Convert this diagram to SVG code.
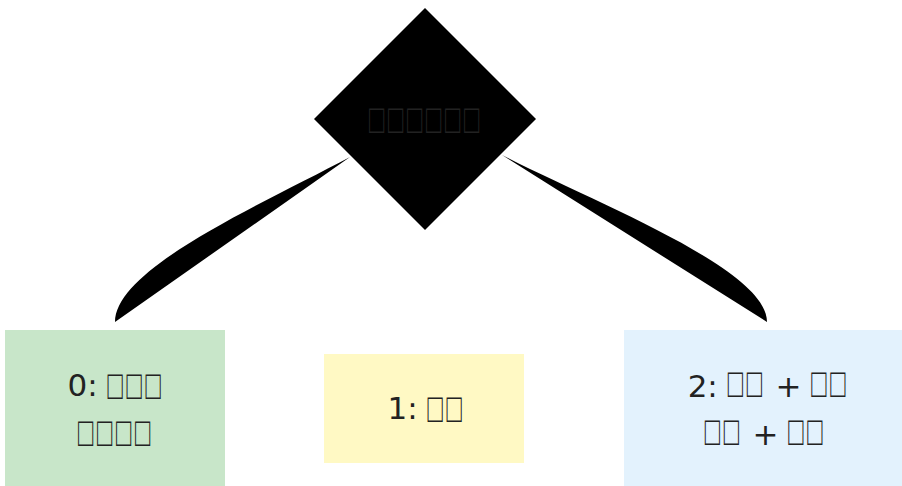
<svg xmlns="http://www.w3.org/2000/svg" width="902" height="486" viewBox="0 0 902 486">
<style>
.t{font-family:"DejaVu Sans","Liberation Sans",sans-serif;font-size:31px;fill:#222;text-anchor:middle}
.b{font-family:"Liberation Sans","DejaVu Sans",sans-serif;font-size:41px;letter-spacing:6px}
.link{fill:#000;stroke:none}
</style>
<rect width="902" height="486" fill="#fff"/>
<g id="connectors">
<path class="link" d="M350,157 C262,204 115,268 115,322 L350,157 Z"/>
<path class="link" d="M502,155 C592,202 767,268 767,322 L502,155 Z"/>
</g>
<g id="decision">
<polygon points="425,8 536,119 425,230 314,119" fill="#000"/>
<text class="t" x="426" y="132.5"><tspan class="b" textLength="114" lengthAdjust="spacingAndGlyphs">□□□□□□</tspan></text>
</g>
<g id="opt0">
<rect x="5" y="330" width="220" height="156" fill="#C8E6C9"/>
<text class="t" x="116" y="396">0: <tspan class="b" dy="2.5" textLength="57" lengthAdjust="spacingAndGlyphs">□□□</tspan></text>
<text class="t" x="116" y="445.5"><tspan class="b" textLength="76" lengthAdjust="spacingAndGlyphs">□□□□</tspan></text>
</g>
<g id="opt1">
<rect x="324" y="354" width="200" height="109" fill="#FFF9C4"/>
<text class="t" x="426.5" y="419">1: <tspan class="b" dy="3" textLength="38" lengthAdjust="spacingAndGlyphs">□□</tspan></text>
</g>
<g id="opt2">
<rect x="624" y="330" width="286" height="156" fill="#E3F2FD"/>
<text class="t" x="768.5" y="397">2: <tspan class="b" textLength="38" lengthAdjust="spacingAndGlyphs">□□</tspan> + <tspan class="b" textLength="38" lengthAdjust="spacingAndGlyphs">□□</tspan></text>
<text class="t" x="765.5" y="444.5"><tspan class="b" textLength="38" lengthAdjust="spacingAndGlyphs">□□</tspan> + <tspan class="b" textLength="38" lengthAdjust="spacingAndGlyphs">□□</tspan></text>
</g>
</svg>
